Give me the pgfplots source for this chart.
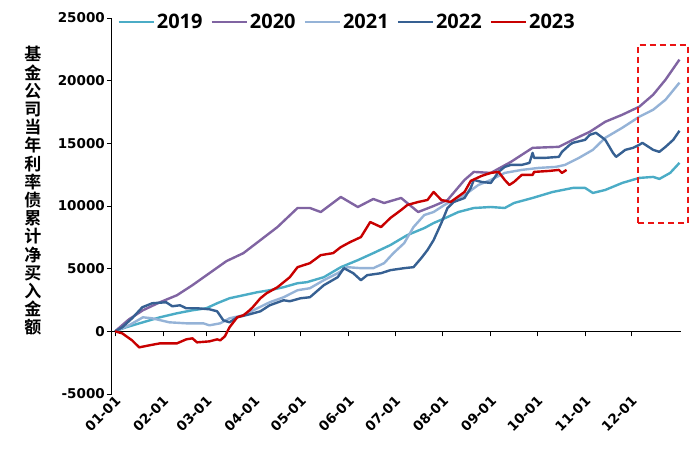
\documentclass[border=0pt]{standalone}
\usepackage{pgfplots}
\pgfplotsset{compat=1.18}
\usepackage{fontspec}
\setmainfont{DejaVu Sans}
\newfontfamily\legfont{Open Sans}
\newfontfamily\cjk{Noto Sans CJK SC}[BoldFont={Noto Sans CJK SC Bold}]
\definecolor{c2019}{RGB}{75,172,198}
\definecolor{c2020}{RGB}{128,100,162}
\definecolor{c2021}{RGB}{149,179,215}
\definecolor{c2022}{RGB}{54,96,146}
\definecolor{c2023}{RGB}{200,0,0}
\definecolor{boxred}{RGB}{235,20,20}

\pgfplotstableread{
d v
0 0
7 320
18 720
29 1120
40 1440
50 1680
59 1840
66 2240
74 2640
83 2880
92 3120
100 3280
109 3520
118 3840
124 3920
135 4320
146 5120
157 5680
167 6240
178 6880
189 7680
200 8240
206 8640
215 9120
222 9520
232 9840
243 9920
252 9840
258 10240
270 10640
283 11120
296 11440
304 11440
309 11040
317 11280
328 11840
339 12240
348 12320
352 12160
359 12640
365 13440
}\dataA

\pgfplotstableread{
d v
0 0
9 960
18 1680
29 2320
40 2880
50 3680
61 4640
72 5600
83 6240
94 7280
105 8320
118 9840
126 9840
133 9520
146 10720
157 9920
167 10560
174 10240
185 10640
196 9520
206 10000
215 10480
226 12080
232 12720
243 12640
256 13520
270 14640
287 14720
296 15280
307 15920
317 16720
328 17280
339 17920
348 18880
356 20080
365 21680
}\dataB

\pgfplotstableread{
d v
0 0
9 480
18 1120
24 1040
35 720
46 640
57 640
61 480
68 640
74 1040
83 1280
92 1840
100 2320
109 2720
118 3280
126 3440
135 4080
144 4640
150 5120
159 5040
167 5040
174 5440
180 6240
187 7040
193 8320
200 9280
206 9520
213 10080
219 10480
226 10880
235 11680
243 12080
252 12640
263 12880
274 13040
285 13120
291 13280
300 13840
309 14480
317 15440
328 16240
339 17120
348 17680
356 18480
365 19840
}\dataC

\pgfplotstableread{
d v
0 0
4.6 320
11 1040
17.6 1920
24 2240
33 2320
37 2000
42 2080
46 1840
53 1840
61 1760
66 1600
70 880
74 720
79 1120
87 1360
94 1600
100 2080
109 2480
113 2400
120 2640
126 2720
135 3680
144 4320
148 5040
154 4640
159 4080
163 4480
172 4640
178 4880
187 5040
193 5120
198 5840
202 6480
206 7280
211 8640
215 9840
219 10320
226 10640
230 11440
232 12080
237 11920
243 11840
248 12720
252 13120
256 13280
263 13280
268 13440
270 14240
271 13840
278 13840
287 13920
289 14320
294 14880
296 15040
304 15280
307 15680
311 15840
317 15280
322 14240
324 13920
330 14480
335 14640
339 14880
341 15040
348 14480
352 14320
356 14720
361 15280
365 16000
}\dataD

\pgfplotstableread{
d v
0 0
4.6 -160
11 -720
15.6 -1280
22 -1120
29 -960
40 -960
46 -640
50 -560
53 -880
61 -800
66 -640
68 -720
71 -400
74 320
79 1120
83 1280
87 1680
89 1920
94 2640
98 3040
105 3520
113 4320
118 5120
126 5440
133 6080
141 6240
146 6720
152 7120
159 7520
165 8720
172 8320
178 9040
185 9680
189 10080
196 10320
202 10480
206 11120
211 10480
217 10320
226 11120
230 12000
237 12400
243 12640
248 12720
252 12080
255 11680
258 11920
263 12480
270 12480
271 12720
281 12800
287 12880
289 12640
292 12880
}\dataE

\begin{document}
\begin{tikzpicture}
\useasboundingbox (-112pt,-74pt) rectangle (588pt,394pt);
\begin{axis}[
  scale only axis,
  width=569pt, height=376pt,
  xmin=-2, xmax=366,
  ymin=-5000, ymax=25000,
  scaled y ticks=false,
  axis x line*=middle,
  axis y line*=left,
  hide obscured x ticks=false,
  hide obscured y ticks=false,
  tick align=outside,
  major tick length=5pt,
  every tick/.style={black, line width=0.9pt},
  axis line style={black, line width=1pt},
  clip=false,
  xtick={0,31,59,90,120,151,181,212,243,273,304,334},
  xticklabels={01-01,02-01,03-01,04-01,05-01,06-01,07-01,08-01,09-01,10-01,11-01,12-01},
  ytick={-5000,0,5000,10000,15000,20000,25000},
  /pgf/number format/.cd, 1000 sep={}, assume math mode=true,
  /pgfplots/.cd,
  ticklabel style={font=\bfseries\fontsize{13.5}{15}\selectfont},
  xticklabel style={yshift=-62pt, xshift=3pt, rotate=45, anchor=east, inner sep=0pt},
  yticklabel style={inner sep=2pt},
  legend columns=5,
  legend style={at={(0.004,0.989)}, anchor=west, draw=none, fill=none,
    font=\legfont\bfseries\fontsize{20}{22}\selectfont,
    /tikz/every even column/.append style={column sep=6pt},
    /tikz/every odd column/.append style={column sep=0pt}},
  legend image code/.code={\draw[#1, line width=2.4pt] (0pt,0pt) -- (35pt,0pt);},
  every axis plot/.append style={line width=2.4pt, line join=round},
]
\addplot[c2019, no markers] table {\dataA};
\addlegendentry{2019}
\addplot[c2020, no markers] table {\dataB};
\addlegendentry{2020}
\addplot[c2021, no markers] table {\dataC};
\addlegendentry{2021}
\addplot[c2022, no markers] table {\dataD};
\addlegendentry{2022}
\addplot[c2023, no markers] table {\dataE};
\addlegendentry{2023}
\draw[boxred, line width=2pt, dash pattern=on 6pt off 4pt] (axis cs:338,8650) rectangle (axis cs:370.5,22850);
\node[font=\cjk\bfseries\fontsize{17}{18.2}\selectfont, align=center, inner sep=0pt]
  at (rel axis cs:-0.139,0.54) {基\\金\\公\\司\\当\\年\\利\\率\\债\\累\\计\\净\\买\\入\\金\\额};
\end{axis}
\end{tikzpicture}
\end{document}
